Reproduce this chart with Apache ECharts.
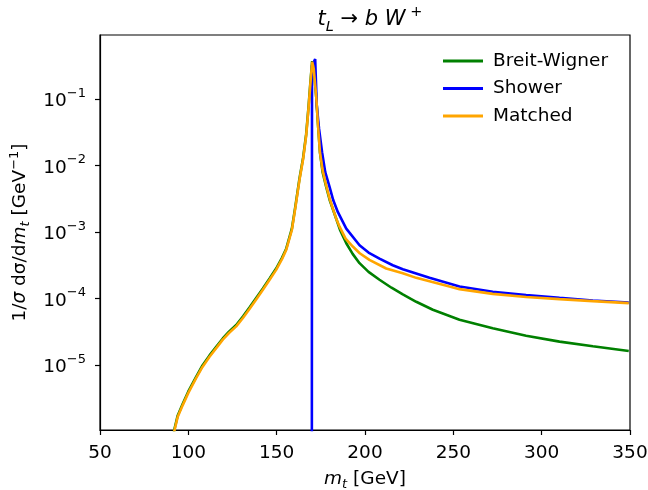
<!DOCTYPE html>
<html><head><meta charset="utf-8">
<script src="https://cdn.jsdelivr.net/npm/echarts@6/dist/echarts.min.js"></script>
<style>html,body{margin:0;padding:0;background:#fff;overflow:hidden}#c{width:648px;height:490px}</style>
</head><body><div id="c"></div>
<script>
// ---- data (m_t in GeV, 1/sigma dsigma/dm_t in GeV^-1) ----
const xTicks = [50, 100, 150, 200, 250, 300, 350];
const yTickExponents = [-5, -4, -3, -2, -1];

const bwMass = [90, 92.2, 94, 96.9, 100, 104.4, 108, 112, 116, 119.5, 123, 127.1, 131, 134.6, 138, 142.2, 146, 149.7, 153, 155.4, 158.6, 160.5, 162.9, 165, 166.7, 168, 169, 170.1, 171, 172.4, 173.3, 174.5, 176, 178, 180, 183.7, 186, 189.4, 193, 196.9, 202, 208.2, 215, 221.4, 229, 238.4, 253.5, 272.3, 291.2, 310.1, 329, 349.3];
const bwValues = [5.2e-7, 1.1e-6, 1.74e-6, 2.63e-6, 3.99e-6, 6.6e-6, 9.8e-6, 1.39e-5, 1.9e-5, 2.5e-5, 3.16e-5, 3.98e-5, 5.4e-5, 7.3e-5, 9.8e-5, 1.41e-4, 2.0e-4, 2.82e-4, 4.07e-4, 5.6e-4, 1.12e-3, 2.34e-3, 6.3e-3, 1.32e-2, 2.95e-2, 7.4e-2, 0.165, 0.37, 0.282, 0.107, 0.0447, 0.0158, 0.00794, 0.00479, 0.00302, 0.00158, 0.00105, 6.76e-4, 4.68e-4, 3.39e-4, 2.51e-4, 1.91e-4, 1.45e-4, 1.15e-4, 8.91e-5, 6.76e-5, 4.79e-5, 3.55e-5, 2.75e-5, 2.24e-5, 1.91e-5, 1.62e-5];

const showerMass = [169.9, 170.0, 171.8, 172.7, 174, 175.7, 177.5, 179.9, 182, 184.6, 189.4, 196.9, 202, 208.2, 215.7, 221.4, 236.5, 253.5, 272.3, 291.2, 310.1, 329, 349.3];
const showerValues = [1e-8, 0.316, 0.398, 0.0794, 0.0355, 0.0158, 0.00794, 0.00479, 0.00302, 0.0020, 0.00112, 6.31e-4, 4.90e-4, 3.98e-4, 3.16e-4, 2.75e-4, 2.04e-4, 1.51e-4, 1.26e-4, 1.12e-4, 1.02e-4, 9.33e-5, 8.71e-5];

const matchedMass = [90, 92.2, 94, 96.9, 100, 104.4, 108, 112, 116, 119.5, 123, 127.1, 131, 134.6, 138, 142.2, 146, 149.7, 153, 155.4, 158.6, 160.5, 162.9, 165, 166.7, 168, 169, 170.1, 171, 172.4, 173.3, 174.5, 176, 178, 180, 181.8, 184, 185.6, 189, 193.1, 197, 202.5, 212, 221.4, 229, 236.5, 247.8, 253.5, 272.3, 291.2, 310.1, 329, 349.3];
const matchedValues = [5.0e-7, 1.05e-6, 1.66e-6, 2.51e-6, 3.80e-6, 6.31e-6, 9.33e-6, 1.33e-5, 1.82e-5, 2.40e-5, 3.02e-5, 3.80e-5, 5.13e-5, 6.92e-5, 9.33e-5, 1.35e-4, 1.91e-4, 2.69e-4, 3.89e-4, 5.37e-4, 1.07e-3, 2.24e-3, 6.03e-3, 1.26e-2, 2.82e-2, 7.08e-2, 0.158, 0.363, 0.282, 0.107, 0.0447, 0.0158, 0.00851, 0.00501, 0.00316, 0.00224, 0.00151, 0.00120, 7.94e-4, 6.03e-4, 4.79e-4, 3.80e-4, 2.82e-4, 2.40e-4, 2.04e-4, 1.82e-4, 1.51e-4, 1.38e-4, 1.17e-4, 1.05e-4, 9.77e-5, 9.12e-5, 8.51e-5];

const seriesNames = ['Breit-Wigner', 'Shower', 'Matched'];
const seriesColors = ['#008000', '#0000ff', '#ffa500'];

function pairs(xs, ys) { return xs.map((x, i) => [x, ys[i]]); }

const FONT = 'DejaVu Sans';
const FS = 18.5;
const chart = echarts.init(document.getElementById('c'), null, {renderer: 'canvas'});
function rs(size, italic, va, lh) {
  return {fontSize: size, fontStyle: italic ? 'italic' : 'normal', fontWeight: 'normal', fontFamily: FONT, color: '#000', lineHeight: lh, verticalAlign: va};
}
chart.setOption({
  animation: false,
  backgroundColor: '#fff',
  title: {
    text: '{i|t}{sub|L}{n| → }{i|b W}{sup| +}',
    left: 365, top: 0, textAlign: 'center',
    textStyle: {
      fontWeight: 'normal',
      rich: {
        i: rs(21, true, 'middle', 30),
        n: rs(21, false, 'middle', 30),
        sub: rs(14.5, true, 'bottom', 30),
        sup: rs(14.5, false, 'top', 30)
      }
    }
  },
  grid: {left: 100, right: 18, top: 35, bottom: 60, show: true, borderColor: '#000', borderWidth: 1.2,
         containLabel: false, outerBoundsMode: 'none'},
  legend: {
    orient: 'vertical', left: 438, top: 46, itemWidth: 40, itemHeight: 3, itemGap: 7.5,
    icon: 'rect',
    textStyle: {fontSize: FS, fontFamily: FONT, color: '#000', lineHeight: 20, padding: [0, 0, 0, 5]},
    data: seriesNames
  },
  xAxis: {
    type: 'value', min: xTicks[0], max: xTicks[xTicks.length - 1], interval: 50,
    splitLine: {show: false},
    axisLine: {show: true, onZero: false, lineStyle: {color: '#000', width: 1.2}},
    axisTick: {show: true, inside: false, length: 5, lineStyle: {color: '#000', width: 1.2}},
    axisLabel: {fontSize: FS, fontFamily: FONT, color: '#000', margin: 14},
    name: '{i|m}{sub|t}{n| [GeV]}', nameLocation: 'middle', nameGap: 37,
    nameTextStyle: {
      rich: {
        i: rs(FS, true, 'middle', 24),
        n: rs(FS, false, 'middle', 24),
        sub: rs(13, true, 'bottom', 24)
      }
    }
  },
  yAxis: {
    type: 'log', logBase: 10, min: 1.05e-6, max: 0.917,
    splitLine: {show: false}, minorTick: {show: false},
    axisLine: {show: true, onZero: false, lineStyle: {color: '#000', width: 1.2}},
    axisTick: {show: true, inside: false, length: 5, lineStyle: {color: '#000', width: 1.2}},
    axisLabel: {
      showMinLabel: false, showMaxLabel: false, margin: 14,
      formatter: function (v) {
        const lg = Math.log10(v);
        const e = Math.round(lg);
        if (Math.abs(lg - e) > 0.01 || yTickExponents.indexOf(e) < 0) return '';
        return '{base|10}{sup|−' + (-e) + '}';
      },
      rich: {
        base: rs(FS, false, 'bottom', 24),
        sup: rs(13, false, 'top', 24)
      }
    },
    name: '{n|1/}{i|σ}{n| dσ/d}{i|m}{sub|t}{n| [GeV}{sup|−1}{n|]}',
    nameLocation: 'middle', nameGap: 57, nameRotate: 90,
    nameTextStyle: {
      rich: {
        i: rs(FS, true, 'middle', 24),
        n: rs(FS, false, 'middle', 24),
        sub: rs(13, true, 'bottom', 24),
        sup: rs(13, false, 'top', 24)
      }
    }
  },
  series: [
    {name: seriesNames[0], type: 'line', data: pairs(bwMass, bwValues), symbol: 'none', clip: true, z: 2,
     lineStyle: {color: seriesColors[0], width: 2.6}, itemStyle: {color: seriesColors[0]}},
    {name: seriesNames[1], type: 'line', data: pairs(showerMass, showerValues), symbol: 'none', clip: true, z: 3,
     lineStyle: {color: seriesColors[1], width: 2.6}, itemStyle: {color: seriesColors[1]}},
    {name: seriesNames[2], type: 'line', data: pairs(matchedMass, matchedValues), symbol: 'none', clip: true, z: 4,
     lineStyle: {color: seriesColors[2], width: 2.6}, itemStyle: {color: seriesColors[2]}}
  ]
});
</script></body></html>
